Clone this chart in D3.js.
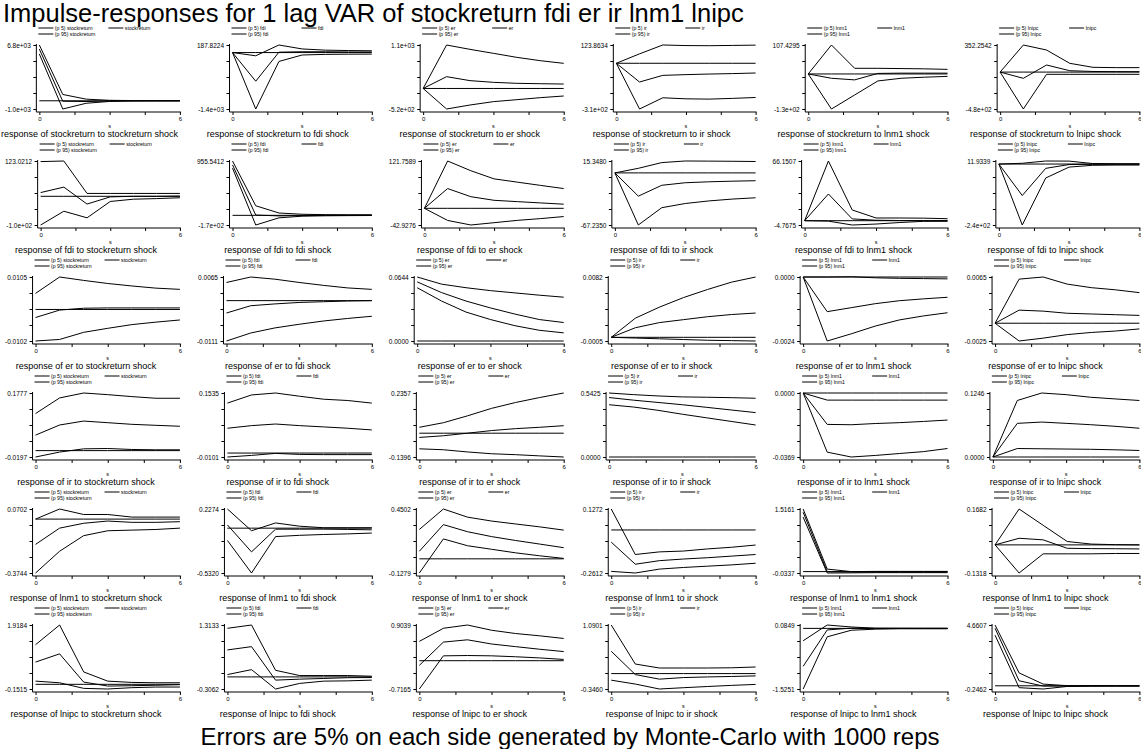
<!DOCTYPE html>
<html>
<head>
<meta charset="utf-8">
<script src="https://cdn.jsdelivr.net/npm/d3@7"></script>
<style>
body { margin: 0; background: #fff; }
svg { display: block; font-family: "Liberation Sans", Arial, sans-serif; }
</style>
</head>
<body>
<div id="chart-area"></div>
<script>
let width = 1141,
height = 749;

// variables in the VAR (rows = response, columns = shock)
let vars = ["stockreturn", "fdi", "er", "ir", "lnm1", "lnipc"];
let steps = [0, 1, 2, 3, 4, 5, 6];
let xTicks = [0, 1.5, 3, 4.5, 6];

// y axis end labels of each panel
let yTop = [
	[6800, 187.8224, 1100, 123.8634, 107.4295, 352.2542],
	[123.0212, 955.5412, 121.7589, 15.3480, 66.1507, 11.9339],
	[0.0105, 0.0065, 0.0644, 0.0082, 0.0000, 0.0065],
	[0.1777, 0.1535, 0.2357, 0.5425, 0.0000, 0.1246],
	[0.0702, 0.2274, 0.4502, 0.1272, 1.5161, 0.1682],
	[1.9184, 1.3133, 0.9039, 1.0901, 0.0849, 4.6607]
];
let yBottom = [
	[-1000, -1400, -520, -310, -130, -480],
	[-100, -170, -42.9276, -67.2350, -4.7675, -240],
	[-0.0102, -0.0111, 0.0000, -0.0005, -0.0024, -0.0025],
	[-0.0197, -0.0101, -0.1396, 0.0000, -0.0369, 0.0000],
	[-0.3744, -0.5320, -0.1279, -0.2612, -0.0337, -0.1318],
	[-0.1515, -0.3062, -0.7165, -0.3460, -1.5251, -0.2462]
];

// (p 5) band
let p5 = [
	[[5700,-1000,-300,-80,-20,-5,0], [0,-1400,-220,-60,-45,-40,-38], [0,-520,-419,-334,-284,-233,-191],
	 [0,-310,-234,-241,-243,-238,-232], [0,-130,-78,-26,-16,-12,-9], [0,-480,-29,-29,-29,-29,-29]],
	[[-100,-52,-75,-18,-10,-8,-5], [830,-170,-44,-15,-8,-5,-3], [0,-31.2,-42.9,-37,-31,-26.5,-21.2],
	 [0,-67.2,-44.9,-39.5,-36.2,-33.8,-32.1], [0,-0.5,-4.77,-3.7,-2,-0.7,-0.6], [0,-240,-55,-12,-5,-4,-4]],
	[[-0.0102,-0.0097,-0.0074,-0.0061,-0.0049,-0.0041,-0.0034], [-0.0111,-0.0089,-0.0075,-0.0065,-0.0056,-0.0049,-0.0043],
	 [0.0536,0.0402,0.0291,0.0216,0.0154,0.0108,0.0082], [0,-0.0001,-0.0002,-0.0003,-0.0004,-0.00045,-0.0005],
	 [0,-0.0024,-0.00213,-0.00184,-0.00161,-0.00146,-0.00134], [0,-0.0025,-0.0021,-0.0016,-0.0013,-0.0011,-0.0008]],
	[[-0.0197,-0.0045,0.0055,0.0065,0.0035,0.0025,0.0025], [-0.0101,-0.006,-0.0009,-0.0035,-0.004,-0.004,-0.004],
	 [-0.0916,-0.097,-0.11,-0.1205,-0.126,-0.133,-0.1396], [0.443,0.4236,0.3958,0.3626,0.332,0.3017,0.2713],
	 [0,-0.0341,-0.0369,-0.036,-0.0349,-0.0338,-0.032], [0,0.0165,0.016,0.0155,0.015,0.014,0.0127]],
	[[-0.3744,-0.2232,-0.115,-0.081,-0.0765,-0.072,-0.0627], [-0.146,-0.532,-0.1,-0.085,-0.075,-0.068,-0.058],
	 [-0.1279,0.18,0.1184,0.0866,0.0542,0.0276,0.004], [-0.2514,-0.2612,-0.2375,-0.2277,-0.2198,-0.212,-0.202],
	 [1.319,-0.0337,-0.03,-0.025,-0.025,-0.025,-0.025], [0,-0.1318,-0.042,-0.042,-0.042,-0.0403,-0.0403]],
	[[0.103,0.0495,-0.131,-0.1515,-0.109,-0.088,-0.088], [0.059,0.184,-0.3062,-0.165,-0.107,-0.1,-0.082],
	 [-0.7165,0.123,0.131,0.123,0.1,0.07,0.032], [-0.148,-0.235,-0.346,-0.317,-0.29,-0.265,-0.243],
	 [-1.5251,-0.213,-0.047,-0.02,-0.01,-0.01,-0.01], [3.88,-0.145,-0.2462,-0.05,-0.03,-0.02,-0.02]]
];

// impulse response
let irf = [
	[[6300,-50,-90,-20,-5,0,0], [0,-710,10,20,20,15,15], [0,298,198,155,130,120,112],
	 [0,-127,-82,-77,-73,-70,-66], [0,-16,-22,2,3,3,3], [0,-81,92,18,8,6,5]],
	[[13,32,-27,-2,0,0,1], [887,5,-10,-5,-2,0,0], [0,50.8,29.9,20.6,17.2,13.9,10.6],
	 [0,-30,-16,-12.7,-11.5,-10.7,-10.1], [0,29.6,2,0.5,0.2,0,0], [0,-124,-17,-2,-1,-1,-1]],
	[[-0.0026,-0.0002,0.0004,0.0005,0.0005,0.0005,0.0005], [-0.0034,-0.0014,-0.0009,-0.0005,-0.0003,-0.0001,0],
	 [0.0595,0.0487,0.0402,0.0333,0.0271,0.0216,0.0186], [0,0.0013,0.002,0.0024,0.0028,0.0031,0.0033],
	 [0,-0.0013,-0.00115,-0.001,-0.00089,-0.00082,-0.00076], [0,0.00184,0.0017,0.0014,0.0013,0.0012,0.0011]],
	[[0.0478,0.079,0.0911,0.0861,0.0811,0.078,0.0751], [0.0634,0.0701,0.0742,0.0701,0.0668,0.0634,0.0591],
	 [-0.0248,-0.015,0,0.0154,0.0267,0.0346,0.044], [0.504,0.4818,0.4624,0.443,0.4208,0.3986,0.3764],
	 [0,-0.0181,-0.0183,-0.0176,-0.0171,-0.0164,-0.0156], [0,0.0655,0.068,0.0655,0.0629,0.0598,0.056]],
	[[-0.1756,-0.0627,-0.029,-0.0134,-0.0224,-0.0224,-0.018], [0.0383,-0.2814,-0.0118,-0.0118,-0.0118,-0.015,-0.02],
	 [0.0686,0.3092,0.245,0.201,0.1658,0.1334,0.101], [-0.074,-0.208,-0.1863,-0.1764,-0.1685,-0.1587,-0.149],
	 [1.437,-0.003,-0.01,-0.01,-0.01,-0.01,-0.01], [0,0.031,0.0236,-0.016,-0.0175,-0.018,-0.019]],
	[[0.7199,0.9849,0.072,-0.056,-0.045,-0.03,-0.013], [0.682,0.766,-0.082,-0.057,-0.04,-0.02,-0.016],
	 [-0.118,0.471,0.529,0.423,0.356,0.29,0.231], [0.501,-0.022,-0.125,-0.089,-0.075,-0.065,-0.052],
	 [-0.955,-0.039,0.005,0,0,0,0], [4.41,0.382,-0.02,-0.02,-0.01,-0.01,-0.01]]
];

// (p 95) band
let p95 = [
	[[6800,770,200,60,30,15,10], [0,-80,187.8,90,60,50,45], [0,1100,990,889,787,703,636],
	 [0,64,123.9,120,119,121,123], [0,107.4,21,21,20,19,17], [0,352.3,287,114,62,58,58]],
	[[121,123.02,10,10,10,10,10], [955.5,168,41,19,12,10,10], [0,121.76,96.7,75.8,67.4,59,50.8],
	 [0,5.9,13.3,15.35,15.2,15,14.7], [0,66.15,11.9,3,3,2.8,2.2], [0,3,11.93,11.5,2,1,1]],
	[[0.0052,0.0105,0.0094,0.0084,0.0076,0.0069,0.0065], [0.005,0.0065,0.0059,0.005,0.0042,0.0035,0.0031],
	 [0.0644,0.0572,0.0536,0.0507,0.0484,0.0461,0.0441], [0,0.0026,0.0041,0.0054,0.0065,0.0075,0.0082],
	 [0,0,0.00001,-0.00003,-0.00005,-0.00006,-0.00007], [0,0.0062,0.0065,0.0055,0.005,0.0047,0.0043]],
	[[0.1143,0.1625,0.1777,0.1726,0.1666,0.1615,0.1615], [0.1277,0.1485,0.1535,0.1452,0.1376,0.1343,0.1277],
	 [0.0346,0.0615,0.1017,0.1456,0.18,0.2091,0.2357], [0.5425,0.5287,0.5176,0.5093,0.5065,0.503,0.498],
	 [0,-0.0041,-0.0041,-0.0041,-0.0041,-0.0041,-0.0041], [0,0.11,0.1246,0.1214,0.1163,0.1131,0.11]],
	[[0,0.0702,0.032,0.032,0.014,0.014,0.014], [0.2274,-0.0308,0.0619,0.0231,0.005,0.005,0.005],
	 [0.2654,0.4502,0.3768,0.3415,0.3149,0.2889,0.2594], [0.1272,-0.149,-0.133,-0.128,-0.115,-0.105,-0.0915],
	 [1.5161,0.0608,0,0.005,0.005,0.005,0.005], [0,0.1682,0.0918,0.0158,0.0038,0.001,0]],
	[[1.281,1.9184,0.401,0.103,0.0617,0.05,0.0503], [1.23,1.3133,0.167,0.034,0.034,0.034,0.018],
	 [0.489,0.821,0.9039,0.771,0.688,0.63,0.563], [1.0901,0.214,0.125,0.125,0.125,0.13,0.148],
	 [-0.311,0.0849,0.035,0.005,0.003,0.002,0.002], [4.6607,0.986,0.131,0.01,0.01,0.01,0.01]]
];

let cw = 191.9, rh = 116;

let svg = d3.select("#chart-area").append("svg")
	.attr("width", width)
	.attr("height", height);

// stata style number: 4 decimals, switch to 1 decimal exponent when too long
function fmt(v) {
	let s = v.toFixed(4);
	if (s === "-0.0000") s = "0.0000";
	if (s.length > 8) s = v.toExponential(1).replace(/e([+-])(\d)$/, "e$10$2");
	return s;
}

svg.append("text")
	.attr("x", 3)
	.attr("y", 22)
	.attr("font-size", 25.5)
	.text("Impulse-responses for 1 lag VAR of " + vars.join(" "));

svg.append("text")
	.attr("x", 570)
	.attr("y", 745)
	.attr("text-anchor", "middle")
	.attr("font-size", 24)
	.text("Errors are 5% on each side generated by Monte-Carlo with 1000 reps");

vars.forEach(function(resp, r) {
	vars.forEach(function(shock, c) {
		drawPanel(r, c);
	});
});

function drawPanel(r, c) {
	let cellLeft = -10 + cw * c;
	let top = 45 + rh * r;
	let g = svg.append("g");

	let lo = yBottom[r][c], hi = yTop[r][c];
	let labels = [fmt(hi), fmt(lo)];

	// widest y label decides where the plot starts
	let lw = 0;
	labels.forEach(function(t) {
		let tmp = g.append("text").attr("font-size", 6.5).text(t);
		lw = Math.max(lw, tmp.node().getComputedTextLength());
		tmp.remove();
	});

	let axisX = cellLeft + 15 + lw + 5.5;
	let x = d3.scaleLinear().domain([0, 6]).range([axisX + 3, cellLeft + cw - 2]);
	let y = d3.scaleLinear().domain([lo, hi]).range([top + 64, top]);
	let axisY = top + 67;

	// axes
	g.append("line").attr("x1", axisX).attr("x2", axisX).attr("y1", top - 1).attr("y2", axisY)
		.attr("stroke", "#000").attr("stroke-width", 1);
	g.append("line").attr("x1", axisX).attr("x2", x(6) + 1).attr("y1", axisY).attr("y2", axisY)
		.attr("stroke", "#000").attr("stroke-width", 1);

	let yAxis = d3.axisLeft(y)
		.tickValues(d3.range(5).map(k => lo + k * (hi - lo) / 4))
		.tickSize(3).tickPadding(2.5)
		.tickFormat((d, i) => i === 0 ? labels[1] : (i === 4 ? labels[0] : ""));
	let ya = g.append("g").attr("transform", "translate(" + axisX + ",0)").call(yAxis);
	ya.select(".domain").remove();
	ya.attr("font-family", null).attr("font-size", 6.5);
	ya.selectAll("line").attr("stroke", "#000");
	ya.selectAll("text").attr("fill", "#000");

	let xAxis = d3.axisBottom(x)
		.tickValues(xTicks)
		.tickSize(3).tickPadding(1.5)
		.tickFormat(d => (d === 0 || d === 6) ? d : "");
	let xa = g.append("g").attr("transform", "translate(0," + axisY + ")").call(xAxis);
	xa.select(".domain").remove();
	xa.attr("font-family", null).attr("font-size", 6);
	xa.selectAll("line").attr("stroke", "#000");
	xa.selectAll("text").attr("fill", "#000");

	g.append("text")
		.attr("x", (x(0) + x(6)) / 2)
		.attr("y", top + 83)
		.attr("text-anchor", "middle")
		.attr("font-size", 5.5)
		.text("s");

	// caption centred in its cell, but kept inside the picture
	let cap = g.append("text")
		.attr("y", top + 91.5)
		.attr("font-size", 9)
		.text("response of " + vars[r] + " to " + vars[c] + " shock");
	let capW = cap.node().getComputedTextLength();
	cap.attr("x", Math.max(1, cellLeft + cw / 2 - capW / 2));

	// lines
	let line = d3.line().x((d, i) => x(steps[i])).y(d => y(d));
	let series = [p5[r][c], irf[r][c], p95[r][c], steps.map(() => 0)];
	g.selectAll("path.irf")
		.data(series)
		.enter().append("path")
		.attr("class", "irf")
		.attr("d", line)
		.attr("fill", "none")
		.attr("stroke", "#000")
		.attr("stroke-width", 1);

	// legend
	let x0 = x(0);
	let legend = [
		{ label: "(p 5) " + vars[c], dx: 0, dy: -17 },
		{ label: vars[c], dx: 70, dy: -17 },
		{ label: "(p 95) " + vars[c], dx: 0, dy: -11 }
	];
	legend.forEach(function(d) {
		g.append("line")
			.attr("x1", x0 - 1 + d.dx).attr("x2", x0 + 14 + d.dx)
			.attr("y1", top + d.dy).attr("y2", top + d.dy)
			.attr("stroke", "#000").attr("stroke-width", 1);
		g.append("text")
			.attr("x", x0 + 15.5 + d.dx)
			.attr("y", top + d.dy + 1.9)
			.attr("font-size", 5.2)
			.text(d.label);
	});
}
</script>
</body>
</html>
